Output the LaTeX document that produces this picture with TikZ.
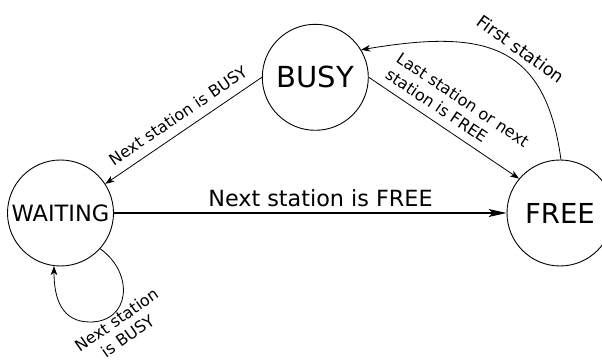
\documentclass[tikz,border=0pt]{standalone}
\usepackage{fontspec}
\setmainfont{DejaVu Sans}
\usetikzlibrary{arrows.meta}
\tikzset{
  state/.style={circle, draw, line width=0.9pt, minimum size=106pt, inner sep=0pt},
  arr/.style={line width=0.8pt, -{Stealth[length=9pt,width=6.5pt,inset=2.5pt]}},
  bigarr/.style={line width=1.1pt, -{Stealth[length=18pt,width=8pt,inset=4pt]}},
  lab/.style={font=\fontsize{16}{19.5}\selectfont, inner sep=0pt},
}
\begin{document}
\begin{tikzpicture}[x=1pt,y=1pt]
\useasboundingbox (0,0) rectangle (602,359);
\clip (0,0) rectangle (602,359);
\node[state, font=\fontsize{29}{34}\selectfont] (busy) at (315.3,281.7) {BUSY};
\node[state, font=\fontsize{22.5}{27}\selectfont] (waiting) at (60.5,146) {WAITING};
\node[state, font=\fontsize{27.5}{32}\selectfont] (free) at (560,146) {FREE};

\draw[arr] (busy.west) -- node[lab, sloped, above=9pt, pos=0.48] {Next station is BUSY} (waiting.33);
\draw[arr] (busy.east) -- node[lab, sloped, above=8pt, pos=0.5, align=left] {Last station or next\\station is FREE} (free.140);
\draw[bigarr] (waiting.east) -- node[lab, font=\fontsize{22.3}{26}\selectfont, above=5.7pt, pos=0.526] {Next station is FREE} (free.west);
\draw[arr] (free.89) .. controls (545,319) and (480,329) .. (busy.31)
  node[lab, font=\fontsize{17.5}{21}\selectfont, rotate=-36] at (521,310) {First station};
\draw[arr] (waiting.318) .. controls (135,85) and (130,37) .. (90,37)
  .. controls (62,37) and (54,60) .. (waiting.263)
  node[lab, rotate=35, align=center] at (122,31) {Next station\\is BUSY};
\end{tikzpicture}
\end{document}
